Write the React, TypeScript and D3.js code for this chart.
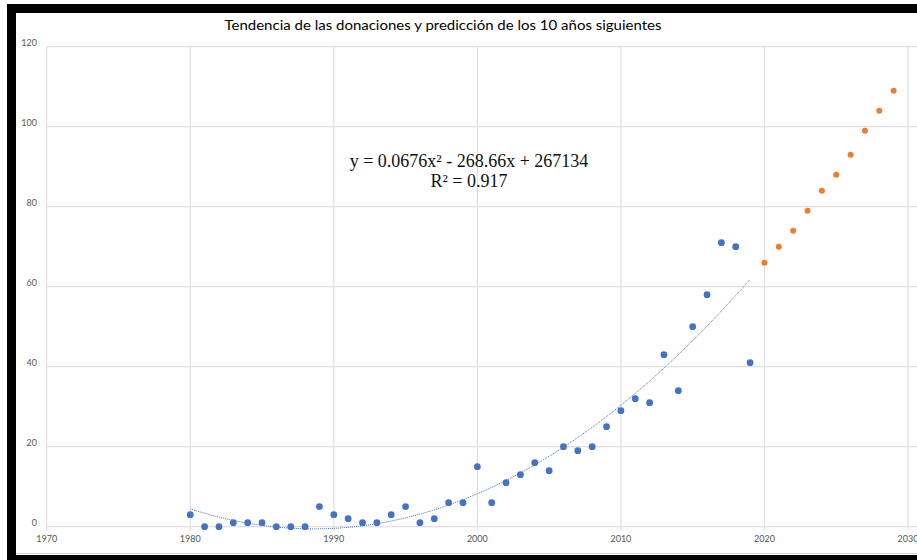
import React from "react";
import * as d3 from "d3";

const title = "Tendencia de las donaciones y predicción de los 10 años siguientes";
const equationLine1 = "y = 0.0676x² - 268.66x + 267134";
const equationLine2 = "R² = 0.917";

const historicYears = d3.range(1980, 2020);
const historicValues = [
  3, 0, 0, 1, 1, 1, 0, 0, 0, 5,
  3, 2, 1, 1, 3, 5, 1, 2, 6, 6,
  15, 6, 11, 13, 16, 14, 20, 19, 20, 25,
  29, 32, 31, 43, 34, 50, 58, 71, 70, 41,
];
const forecastYears = d3.range(2020, 2030);
const forecastValues = [66, 70, 74, 79, 84, 88, 93, 99, 104, 109];

const xTicks = [1970, 1980, 1990, 2000, 2010, 2020, 2030];
const yTicks = [0, 20, 40, 60, 80, 100, 120];

// least-squares quadratic fit of the historic data (the chart's trendline)
function quadFit(xs: number[], ys: number[]) {
  const x0 = d3.mean(xs) as number;
  const u = xs.map((x) => x - x0);
  const s = (p: number) => d3.sum(u, (v) => Math.pow(v, p));
  const t = (p: number) => d3.sum(u, (v, i) => Math.pow(v, p) * ys[i]);
  const A = [
    [s(4), s(3), s(2), t(2)],
    [s(3), s(2), s(1), t(1)],
    [s(2), s(1), u.length, t(0)],
  ];
  for (let i = 0; i < 3; i++) {
    for (let k = i + 1; k < 3; k++) {
      const f = A[k][i] / A[i][i];
      for (let j = i; j < 4; j++) A[k][j] -= f * A[i][j];
    }
  }
  const c = [0, 0, 0];
  for (let i = 2; i >= 0; i--) {
    let v = A[i][3];
    for (let j = i + 1; j < 3; j++) v -= A[i][j] * c[j];
    c[i] = v / A[i][i];
  }
  return (x: number) => c[0] * (x - x0) ** 2 + c[1] * (x - x0) + c[2];
}

export default function App() {
  const W = 917;
  const H = 560;
  const x = d3.scaleLinear().domain([1970, 2030]).range([46.7, 908]);
  const y = d3.scaleLinear().domain([0, 120]).range([526.7, 46.7]);
  const fit = quadFit(historicYears, historicValues);
  const trendPts = d3.range(1980, 2019.001, 0.25).map((t) => [t, fit(t)] as [number, number]);
  const line = d3
    .line<[number, number]>()
    .x((d) => x(d[0]))
    .y((d) => y(d[1]))
    .curve(d3.curveLinear);

  const font = "Lato, 'Open Sans', sans-serif";
  const serif = "'Liberation Serif', 'Times New Roman', serif";
  return (
    <svg
      width={W}
      height={H}
      style={{ position: "absolute", left: 0, top: 0, background: "#fff" }}
    >
      {/* black frame */}
      <rect x={7} y={4} width={W - 7} height={9} fill="#000" />
      <rect x={7} y={4} width={9} height={H - 4} fill="#000" />
      <rect x={7} y={555} width={W - 7} height={5} fill="#000" />
      <line x1={16} x2={W} y1={553.5} y2={553.5} stroke="#d0d0d0" strokeWidth={1} />

      {/* gridlines */}
      {yTicks.map((t) => (
        <line
          key={"h" + t}
          x1={x(1970)}
          x2={W}
          y1={y(t)}
          y2={y(t)}
          stroke="#e0e0e0"
          strokeWidth={1.2}
        />
      ))}
      {xTicks.map((t) => (
        <line
          key={"v" + t}
          x1={x(t)}
          x2={x(t)}
          y1={y(120)}
          y2={y(0) + 4}
          stroke="#e0e0e0"
          strokeWidth={1.2}
        />
      ))}

      {/* axis labels */}
      {yTicks.map((t) => (
        <text
          key={"yl" + t}
          x={37}
          y={y(t) - 1}
          textAnchor="end"
          fontFamily={font}
          fontSize={9}
          fill="#555"
        >
          {t}
        </text>
      ))}
      {xTicks.map((t) => (
        <text
          key={"xl" + t}
          x={x(t)}
          y={y(0) + 15}
          textAnchor="middle"
          fontFamily={font}
          fontSize={9}
          fill="#555"
        >
          {t}
        </text>
      ))}

      {/* title */}
      <text
        x={443}
        y={30}
        textAnchor="middle"
        fontFamily={font}
        fontSize={13.5}
        fill="#000"
        textLength={437}
        lengthAdjust="spacingAndGlyphs"
      >
        {title}
      </text>

      {/* trendline */}
      <path
        d={line(trendPts) || ""}
        fill="none"
        stroke="#4472C4"
        strokeWidth={1}
        strokeDasharray="1 1"
      />

      {/* points */}
      {historicYears.map((yr, i) => (
        <circle key={"b" + yr} cx={x(yr)} cy={y(historicValues[i])} r={3.4} fill="#4472C4" />
      ))}
      {forecastYears.map((yr, i) => (
        <circle key={"o" + yr} cx={x(yr)} cy={y(forecastValues[i])} r={3} fill="#ED7D31" />
      ))}

      {/* equation */}
      <text x={469} y={167} textAnchor="middle" fontFamily={serif} fontSize={18} fill="#111">
        {equationLine1}
      </text>
      <text x={469} y={187} textAnchor="middle" fontFamily={serif} fontSize={18} fill="#111">
        {equationLine2}
      </text>
    </svg>
  );
}
